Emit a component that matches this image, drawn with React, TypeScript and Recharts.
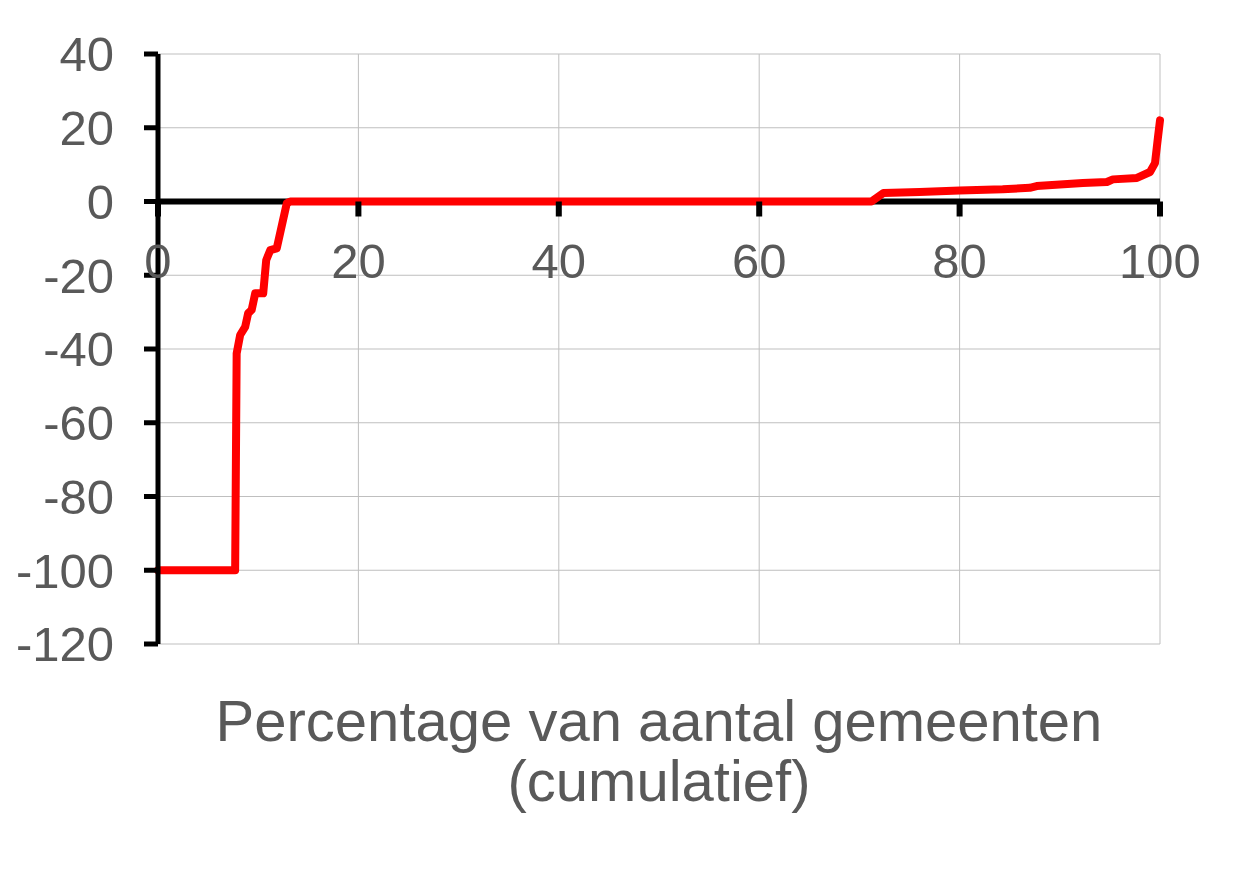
import { LineChart, Line, XAxis, YAxis, CartesianGrid, ReferenceLine } from "recharts";

// cumulative share of municipalities (%) vs. change (%)
const pctX = [
  0, 7.7, 7.85, 8.2, 8.7, 9.0, 9.35, 9.7, 10.5, 10.8, 11.2, 11.85, 12.85, 13.2,
  71.2, 72.4, 76, 80, 84.3, 87, 87.7, 92.3, 94.7, 95.3, 97.7, 99, 99.5, 99.8, 100,
];
const change = [
  -100, -100, -41.2, -36.2, -34, -30.3, -29.4, -24.9, -24.9, -15.9, -13.2, -12.7, -0.5, 0,
  0, 2.3, 2.6, 3.0, 3.3, 3.7, 4.2, 5.0, 5.3, 6.0, 6.4, 8.0, 10.4, 17.5, 22,
];
const xTicks = [0, 20, 40, 60, 80, 100];
const yTicks = [40, 20, 0, -20, -40, -60, -80, -100, -120];
const titleLines = ["Percentage van aantal gemeenten", "(cumulatief)"];

const data = pctX.map((x, i) => ({ x, y: change[i] }));

const W = 1251;
const H = 885;
const TOP = 54;
const BOTTOM = 241;
const LEFT = 158;
const RIGHT = 91;
const FONT = "'Liberation Sans', Arial, sans-serif";
const GREY = "#595959";

const yMax = yTicks[0];
const yMin = yTicks[yTicks.length - 1];
const plotH = H - TOP - BOTTOM;
const zeroY = TOP + (plotH * (yMax - 0)) / (yMax - yMin);

const XTick = ({ x, payload }: any) => (
  <g>
    <line x1={x} x2={x} y1={zeroY} y2={zeroY + 15} stroke="#000" strokeWidth={6} />
    <text
      x={x}
      y={zeroY + 59}
      dy="0.36em"
      textAnchor="middle"
      fill={GREY}
      fontSize={49}
      fontFamily={FONT}
    >
      {payload.value}
    </text>
  </g>
);

const Title = ({ viewBox }: any) => {
  const cx = viewBox.x + viewBox.width / 2;
  return (
    <text textAnchor="middle" fill={GREY} fontSize={58} fontFamily={FONT}>
      {titleLines.map((t, i) => (
        <tspan key={t} x={cx} y={viewBox.y + 97 + i * 60}>
          {t}
        </tspan>
      ))}
    </text>
  );
};

export default function App() {
  return (
    <div style={{ position: "absolute", left: 0, top: 0, background: "#fff" }}>
      <LineChart
        width={W}
        height={H}
        data={data}
        margin={{ top: TOP, right: RIGHT, bottom: 0, left: 0 }}
      >
        <CartesianGrid stroke="#bfbfbf" strokeWidth={1} />
        <XAxis
          dataKey="x"
          type="number"
          domain={[0, 100]}
          ticks={xTicks}
          height={BOTTOM}
          axisLine={false}
          tickLine={false}
          tick={<XTick />}
          label={<Title />}
        />
        <YAxis
          type="number"
          domain={[yMin, yMax]}
          ticks={yTicks}
          width={LEFT}
          axisLine={{ stroke: "#000", strokeWidth: 5 }}
          tickLine={{ stroke: "#000", strokeWidth: 5 }}
          tickSize={14}
          tickMargin={30}
          tick={{ fill: GREY, fontSize: 49, fontFamily: FONT }}
        />
        <ReferenceLine y={0} stroke="#000" strokeWidth={6} />
        <Line
          type="linear"
          dataKey="y"
          stroke="#ff0000"
          strokeWidth={8}
          strokeLinejoin="round"
          strokeLinecap="round"
          dot={false}
          isAnimationActive={false}
        />
      </LineChart>
    </div>
  );
}
